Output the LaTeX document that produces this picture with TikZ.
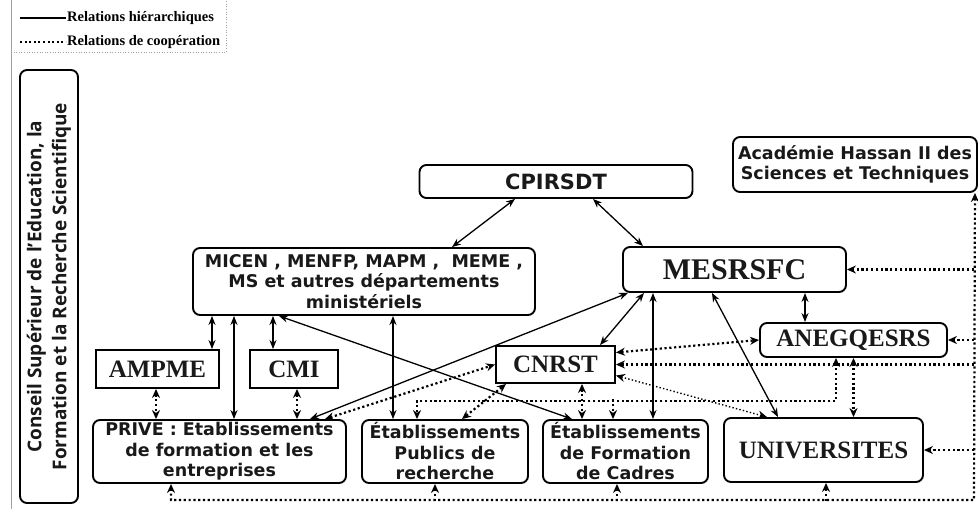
\documentclass[tikz,border=0pt]{standalone}
\usepackage{fontspec}
\setmainfont{Liberation Serif}
\newfontfamily\boxsans{DejaVu Sans}
\newfontfamily\conseilfont{Open Sans}
\usetikzlibrary{arrows.meta}
\definecolor{legendgray}{RGB}{160,160,160}
\definecolor{inkblack}{RGB}{25,25,25}
\tikzset{
    orgbox/.style={draw, line width=1.9pt, rounded corners=7pt, inner sep=0pt, align=center, text=inkblack},
    sqbox/.style={orgbox, rounded corners=0pt},
    sanslbl/.style={font=\boxsans\bfseries\fontsize{17.5}{20.5}\selectfont},
    seriflbl/.style={font=\bfseries\fontsize{25}{28}\selectfont},
    conseillbl/.style={font=\conseilfont\bfseries\fontsize{19}{25}\selectfont},
    legendtxt/.style={font=\bfseries\fontsize{14.5}{16}\selectfont, inner sep=1pt},
    hier/.style={<->, >={Stealth[length=9pt,width=7pt]}, line width=1.3pt},
    coop/.style={>={Stealth[length=9pt,width=8pt]}, line width=2.2pt, dash pattern=on 2.2pt off 2.6pt},
    coopthin/.style={coop, line width=1.4pt, dash pattern=on 1.4pt off 2.2pt}
}

\begin{document}
\begin{tikzpicture}[x=1pt, y=-1pt]
\useasboundingbox (0,0) rectangle (978,509);
% legende
\draw[legendgray, line width=0.6pt] (11,0) -- (11,509);
\draw[legendgray, line width=0.6pt, dotted] (11,52) -- (226,52) -- (226,0);
\coordinate (hstart) at (20,18);
\coordinate (cstart) at (20,42);
\node[legendtxt, anchor=west] (hlbl) at (66,18) {Relations hiérarchiques};
\node[legendtxt, anchor=west] (clbl) at (66,42) {Relations de coopération};
\draw[line width=2.4pt] (hstart) -- (hlbl.west);
\draw[line width=2pt, dash pattern=on 2pt off 2.6pt] (cstart) -- (clbl.west);

% boites
\node[orgbox, conseillbl, rotate=90, minimum width=433pt, minimum height=58pt] (conseil) at (49,286.5)
    {Conseil Supérieur de l’Education, la\\Formation et la Recherche Scientifique};
\node[orgbox, font=\boxsans\bfseries\fontsize{21}{24}\selectfont, minimum width=273pt, minimum height=33pt] (cpirsdt) at (556,181.5) {CPIRSDT};
\node[orgbox, sanslbl, minimum width=244pt, minimum height=55pt] (academie) at (855,164.5) {Académie Hassan II des\\Sciences et Techniques};
\node[orgbox, sanslbl, minimum width=342pt, minimum height=67pt] (micen) at (364,281.5)
    {MICEN , MENFP, MAPM , \ MEME ,\\MS et autres départements\\ministériels};
\node[orgbox, font=\bfseries\fontsize{30}{32}\selectfont, minimum width=223pt, minimum height=45pt] (mesrsfc) at (734.5,269.5) {MESRSFC};
\node[orgbox, seriflbl, minimum width=187pt, minimum height=34pt] (anegqesrs) at (853.5,340) {ANEGQESRS};
\node[sqbox, seriflbl, minimum width=123pt, minimum height=38pt] (ampme) at (157.5,369) {AMPME};
\node[sqbox, seriflbl, minimum width=88pt, minimum height=38pt] (cmi) at (294,369) {CMI};
\node[sqbox, seriflbl, minimum width=119pt, minimum height=37pt] (cnrst) at (555.5,364.5) {CNRST};
\node[orgbox, sanslbl, minimum width=253pt, minimum height=63pt] (prive) at (219.5,451.5)
    {PRIVE : Etablissements\\de formation et les\\entreprises};
\node[orgbox, sanslbl, minimum width=166pt, minimum height=63pt] (publics) at (445,451.5) {Établissements\\Publics de\\recherche};
\node[orgbox, sanslbl, minimum width=165pt, minimum height=63pt] (cadres) at (625.5,451.5) {Établissements\\de Formation\\de Cadres};
\node[orgbox, seriflbl, minimum width=199pt, minimum height=64pt] (univ) at (823.5,450) {UNIVERSITES};

% relations hierarchiques
\draw[hier] ([xshift=-41pt]cpirsdt.south) -- ([xshift=88pt]micen.north);
\draw[hier] ([xshift=37pt]cpirsdt.south) -- ([xshift=-91.5pt]mesrsfc.north);
\draw[hier] ([xshift=70.5pt]mesrsfc.south) -- ([xshift=-48.5pt]anegqesrs.north);
\draw[hier] ([xshift=-152pt]micen.south) -- ([xshift=54.5pt]ampme.north);
\draw[hier] ([xshift=-130pt]micen.south) -- ([xshift=14.5pt]prive.north);
\draw[hier] ([xshift=-91pt]micen.south) -- ([xshift=-21pt]cmi.north);
\draw[hier] ([xshift=29pt]micen.south) -- ([xshift=-52pt]publics.north);
\draw[hier] ([xshift=-85pt]micen.south) -- ([xshift=-53.5pt]cadres.north);
\draw[hier] ([xshift=90.5pt]prive.north) -- ([xshift=-106.5pt]mesrsfc.south);
\draw[hier] ([xshift=44.5pt]cnrst.north) -- ([xshift=-90.5pt]mesrsfc.south);
\draw[hier] ([xshift=-81.5pt]mesrsfc.south) -- ([xshift=27.5pt]cadres.north);
\draw[hier] ([xshift=-22.5pt]mesrsfc.south) -- ([xshift=-45.5pt]univ.north);

% relations de cooperation
\draw[coop, <->] ([xshift=-1.5pt]ampme.south) -- ([xshift=-63.5pt]prive.north);
\draw[coop, <->] ([xshift=3pt]cmi.south) -- ([xshift=77.5pt]prive.north);
\draw[coop, <->] ([xshift=105.5pt]prive.north) -- (cnrst.west);
\draw[coop, <->] ([xshift=-49.5pt]cnrst.south) -- ([xshift=17pt]publics.north);
\draw[coop, <->] ([xshift=26.5pt]cnrst.south) -- ([xshift=-43.5pt]cadres.north);
\draw[coop, <->] ([yshift=12pt]cnrst.east) -- (anegqesrs.west);
\draw[coopthin, <->] ([yshift=-11pt]cnrst.east) -- ([xshift=-56.5pt]univ.north);
\coordinate (anegleft) at ([xshift=-17.5pt]anegqesrs.south);
\coordinate (pubtop) at ([xshift=-28pt]publics.north);
\draw[coop, <->] (anegleft) -- ++(0,43) -| (pubtop);
\draw[coop, ->] ([xshift=-12.5pt,yshift=20pt]cadres.north) -- ([xshift=-12.5pt]cadres.north);
\draw[coop, <->] (anegqesrs.south) -- ([xshift=30pt]univ.north);

\coordinate (trunkbot) at (974,500);
\draw[coop, <->] ([xshift=-3pt]academie.south east) -- (trunkbot) -| ([xshift=-48.5pt]prive.south);
\draw[coop, ->] (mesrsfc.east -| trunkbot) -- (mesrsfc.east);
\draw[coop, ->] (anegqesrs.east -| trunkbot) -- (anegqesrs.east);
\draw[coop, ->] (cnrst.east -| trunkbot) -- (cnrst.east);
\draw[coop, ->] (univ.east -| trunkbot) -- (univ.east);
\draw[coop, ->] ([xshift=-10pt,yshift=-17pt]publics.south) -- ([xshift=-10pt]publics.south);
\draw[coop, ->] ([xshift=-8.5pt,yshift=-17pt]cadres.south) -- ([xshift=-8.5pt]cadres.south);
\draw[coop, ->] ([xshift=2.5pt,yshift=-18pt]univ.south) -- ([xshift=2.5pt]univ.south);
\end{tikzpicture}
\end{document}
